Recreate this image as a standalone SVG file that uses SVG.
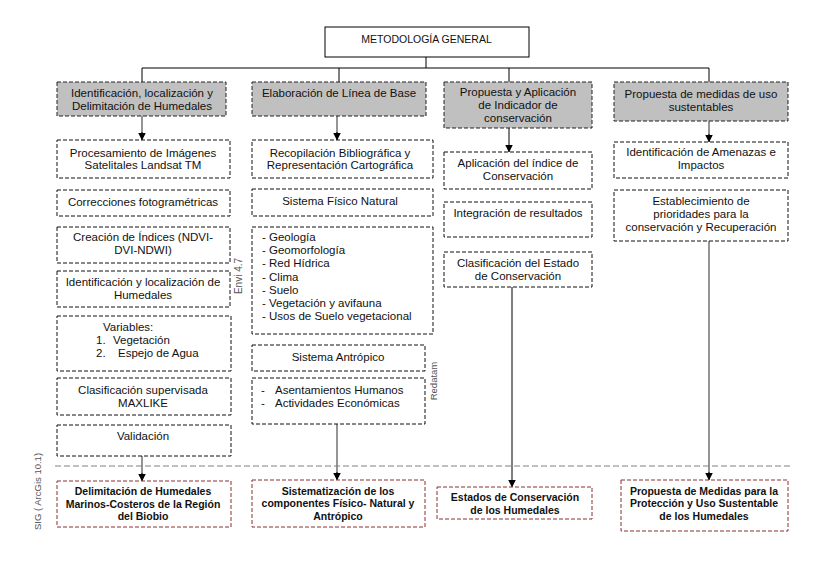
<svg xmlns="http://www.w3.org/2000/svg" width="836" height="565" viewBox="0 0 836 565">
<defs>
<marker id="ah" viewBox="0 0 8 8" refX="7.5" refY="4" markerWidth="8" markerHeight="8" markerUnits="userSpaceOnUse" orient="auto">
<path d="M0,0 L8,4 L0,8 z" fill="#000"/>
</marker>
<style>
text{font-family:"Liberation Sans",Arial,sans-serif;font-size:11.5px;fill:#111;}
.c{text-anchor:middle;}
.g{fill:#c0c0c0;stroke:#222;stroke-width:1;stroke-dasharray:4,2;}
.d{fill:#fff;stroke:#111;stroke-width:1;stroke-dasharray:4,2;}
.r{fill:#fff;stroke:#8b2f2f;stroke-width:1;stroke-dasharray:4,2;}
.s{fill:#fff;stroke:#000;stroke-width:1;}
.b{font-weight:bold;font-size:10.5px;}
.lk{fill:none;stroke:#000;stroke-width:1;}
.lg{fill:none;stroke:#7a7a7a;stroke-width:1.6;}
.sep{fill:none;stroke:#808080;stroke-width:1;stroke-dasharray:6,3;}
.side{font-size:9.5px;fill:#555;}
</style>
</defs>
<rect width="836" height="565" fill="#fff"/>

<g id="connectors">
<path class="lk" d="M426,57 V68 M142,68 H709 M142,68 V82 M339,68 V82 M509,68 V82 M709,68 V82"/>
<path class="lg" d="M142,116 V133"/><path class="lk" d="M142,132 V140" marker-end="url(#ah)"/>
<path class="lg" d="M337,116 V133"/><path class="lk" d="M337,132 V140" marker-end="url(#ah)"/>
<path class="lk" d="M509,128 V152" marker-end="url(#ah)"/>
<path class="lg" d="M709,121 V135"/><path class="lk" d="M709,134 V142" marker-end="url(#ah)"/>
<path class="lg" d="M142,456 V474"/><path class="lk" d="M142,473 V481" marker-end="url(#ah)"/>
<path class="lg" d="M337,424 V473"/><path class="lk" d="M337,472 V480" marker-end="url(#ah)"/>
<path class="lk" d="M512,287 V487" marker-end="url(#ah)"/>
<path class="lg" d="M709,241 V473"/><path class="lk" d="M709,472 V480" marker-end="url(#ah)"/>
</g>

<line class="sep" x1="55" y1="466" x2="790" y2="466"/>

<g id="n-top"><rect class="s" x="325" y="27" width="204" height="30"/><text class="c" x="426.5" y="43" style="font-size:10.5px">METODOLOGÍA GENERAL</text></g>

<g id="n-h1"><rect class="g" x="57" y="82" width="169" height="34"/><text class="c" x="142" y="96.5">Identificación, localización y</text><text class="c" x="142" y="109.5">Delimitación de Humedales</text></g>
<g id="n-h2"><rect class="g" x="252" y="82" width="174" height="34"/><text class="c" x="339" y="97">Elaboración de Línea de Base</text></g>
<g id="n-h3"><rect class="g" x="444" y="82" width="148" height="46"/><text class="c" x="518" y="96">Propuesta y Aplicación</text><text class="c" x="518" y="109">de Indicador de</text><text class="c" x="518" y="122">conservación</text></g>
<g id="n-h4"><rect class="g" x="614" y="82" width="174" height="39"/><text class="c" x="701" y="98">Propuesta de medidas de uso</text><text class="c" x="701" y="111">sustentables</text></g>

<g id="n-c1a"><rect class="d" x="57" y="140" width="173" height="38"/><text class="c" x="143" y="156.5">Procesamiento de Imágenes</text><text class="c" x="143" y="169">Satelitales Landsat TM</text></g>
<g id="n-c1b"><rect class="d" x="57" y="190" width="173" height="26"/><text class="c" x="143" y="206">Correcciones fotogramétricas</text></g>
<g id="n-c1c"><rect class="d" x="57" y="227" width="173" height="36"/><text class="c" x="143" y="241">Creación de Índices (NDVI-</text><text class="c" x="143" y="254">DVI-NDWI)</text></g>
<g id="n-c1d"><rect class="d" x="57" y="271" width="173" height="36"/><text class="c" x="143" y="286">Identificación y localización de</text><text class="c" x="143" y="299">Humedales</text></g>
<g id="n-c1e"><rect class="d" x="57" y="316" width="174" height="55"/><text x="103" y="331">Variables:</text><text x="96" y="344">1.</text><text x="113" y="344">Vegetación</text><text x="96" y="357">2.</text><text x="118" y="357">Espejo de Agua</text></g>
<g id="n-c1f"><rect class="d" x="57" y="378" width="174" height="37"/><text class="c" x="143" y="394">Clasificación supervisada</text><text class="c" x="143" y="407">MAXLIKE</text></g>
<g id="n-c1g"><rect class="d" x="57" y="425" width="174" height="31"/><text class="c" x="143" y="440">Validación</text></g>

<g id="n-c2a"><rect class="d" x="252" y="140" width="181" height="38"/><text class="c" x="340" y="156.5">Recopilación Bibliográfica y</text><text class="c" x="340" y="169">Representación Cartográfica</text></g>
<g id="n-c2b"><rect class="d" x="252" y="189" width="181" height="27"/><text class="c" x="340" y="205">Sistema Físico Natural</text></g>
<g id="n-c2c"><rect class="d" x="252" y="227" width="181" height="107"/>
<text x="262" y="241">- Geología</text><text x="262" y="254.2">- Geomorfología</text><text x="262" y="267.4">- Red Hídrica</text><text x="262" y="280.6">- Clima</text><text x="262" y="293.8">- Suelo</text><text x="262" y="307">- Vegetación y avifauna</text><text x="262" y="320.2">- Usos de Suelo vegetacional</text></g>
<g id="n-c2d"><rect class="d" x="252" y="345" width="173" height="26"/><text class="c" x="338" y="361">Sistema Antrópico</text></g>
<g id="n-c2e"><rect class="d" x="252" y="378" width="173" height="46"/><text x="261" y="394">-</text><text x="275" y="394">Asentamientos Humanos</text><text x="261" y="407">-</text><text x="275" y="407">Actividades Económicas</text></g>

<g id="n-c3a"><rect class="d" x="444" y="152" width="148" height="37"/><text class="c" x="518" y="167">Aplicación del índice de</text><text class="c" x="518" y="179.5">Conservación</text></g>
<g id="n-c3b"><rect class="d" x="444" y="202" width="148" height="35"/><text class="c" x="518" y="217">Integración de resultados</text></g>
<g id="n-c3c"><rect class="d" x="444" y="252" width="148" height="35"/><text class="c" x="518" y="267">Clasificación del Estado</text><text class="c" x="518" y="280">de Conservación</text></g>

<g id="n-c4a"><rect class="d" x="614" y="142" width="174" height="36"/><text class="c" x="701" y="156">Identificación de Amenazas e</text><text class="c" x="701" y="169">Impactos</text></g>
<g id="n-c4b"><rect class="d" x="614" y="190" width="174" height="51"/><text class="c" x="701" y="205">Establecimiento de</text><text class="c" x="701" y="218">prioridades para la</text><text class="c" x="701" y="231">conservación y Recuperación</text></g>

<g id="n-r1"><rect class="r" x="57" y="481" width="174" height="46"/><text class="c b" x="143" y="495">Delimitación de Humedales</text><text class="c b" x="143" y="507.5">Marinos-Costeros de la Región</text><text class="c b" x="143" y="519.5">del Biobio</text></g>
<g id="n-r2"><rect class="r" x="252" y="480" width="173" height="47"/><text class="c b" x="338" y="494.5">Sistematización de los</text><text class="c b" x="338" y="507">componentes Físico- Natural y</text><text class="c b" x="338" y="519.5">Antrópico</text></g>
<g id="n-r3"><rect class="r" x="437" y="487" width="155" height="32"/><text class="c b" x="515" y="501">Estados de Conservación</text><text class="c b" x="515" y="513.5">de los Humedales</text></g>
<g id="n-r4"><rect class="r" x="621" y="480" width="167" height="51"/><text class="c b" x="704" y="494.5">Propuesta de Medidas para la</text><text class="c b" x="704" y="507">Protección y Uso Sustentable</text><text class="c b" x="704" y="519.5">de los Humedales</text></g>

<g id="labels">
<text class="side c" transform="translate(241.5,276) rotate(-90)" style="font-size:10px">Envi 4.7</text>
<text class="side c" transform="translate(436.5,381) rotate(-90)">Redatam</text>
<text class="side c" transform="translate(41,491.5) rotate(-90)">SIG ( ArcGis 10.1)</text>
</g>
</svg>
